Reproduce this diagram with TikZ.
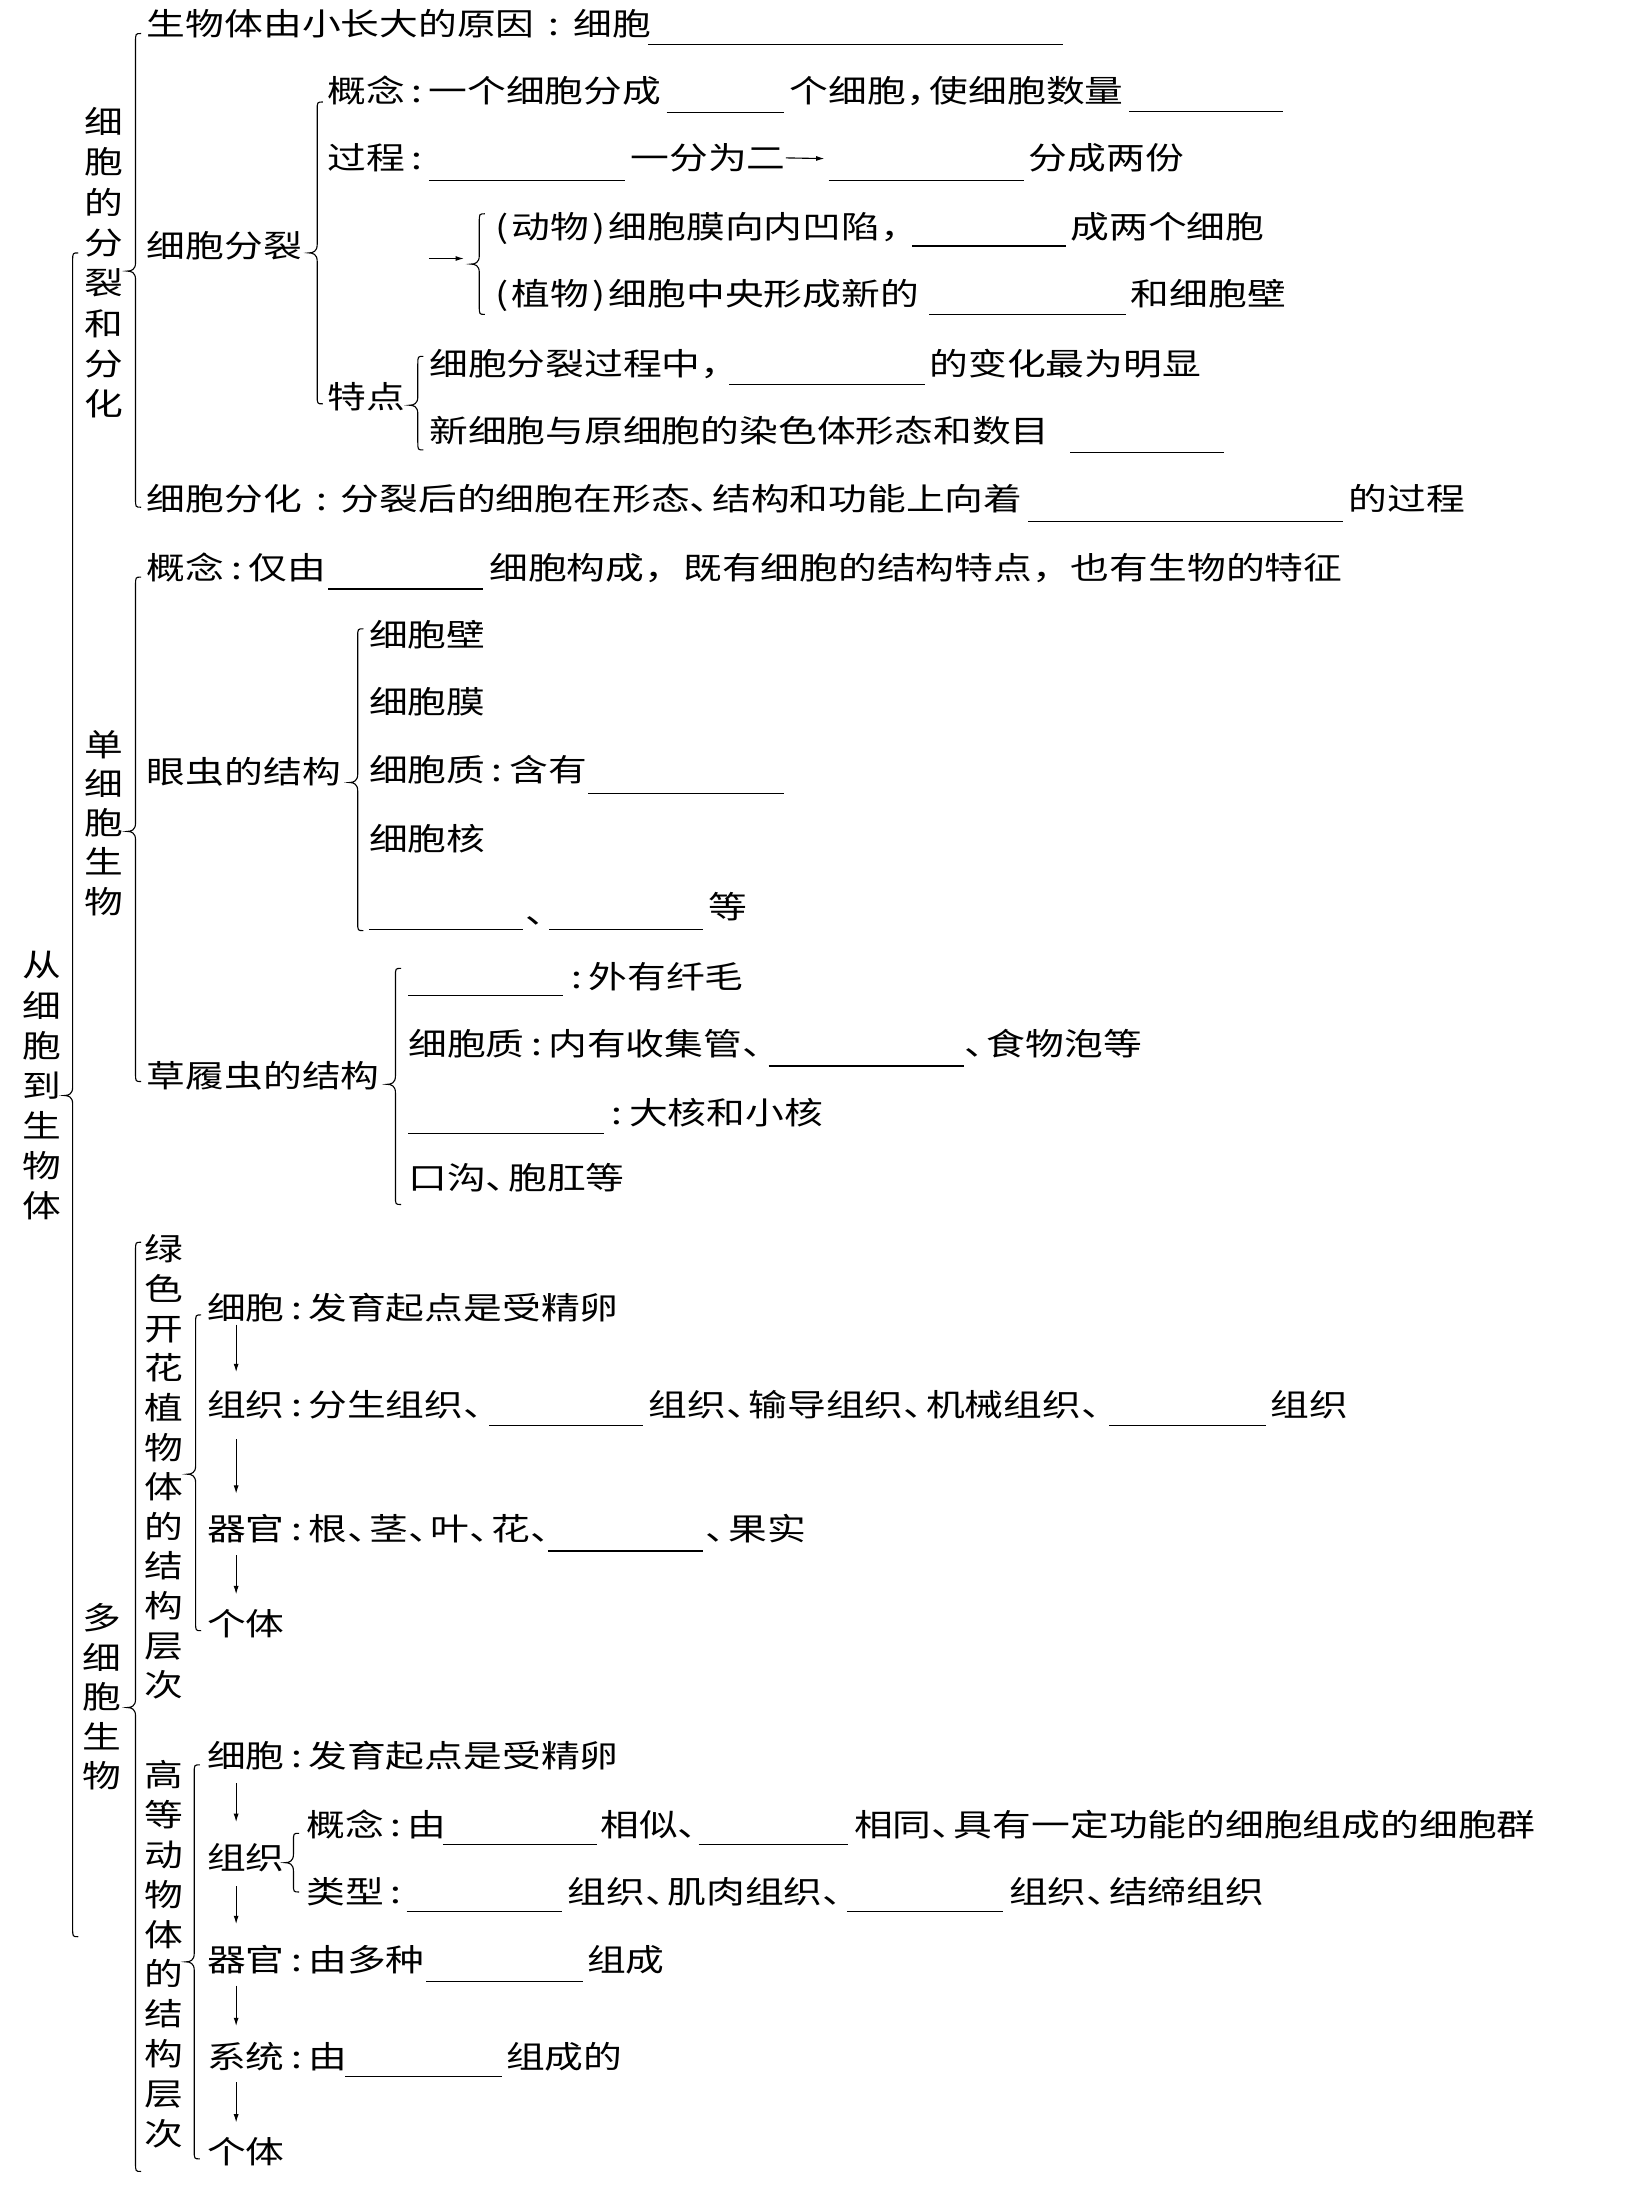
\documentclass[tikz,border=0pt]{standalone}
\usepackage{fontspec}
\setmainfont{Noto Sans CJK SC}[FakeStretch=1.25]
\usetikzlibrary{arrows.meta}
\newcommand\CO{\makebox[17pt][c]{:}}
\newcommand\COW{\makebox[27.75pt][c]{:}}
\newcommand\DN{\makebox[16pt][l]{、}}
\newcommand\CM{\makebox[17pt][l]{，}}
\newcommand\LP{\makebox[14pt][c]{(}}
\newcommand\RP{\makebox[14pt][c]{)}}
\newcommand\brc[4]{%
 \draw[bracel] ({#1+4},{#2}) .. controls ({#1},{#2}) .. ({#1},{#2+6}) -- ({#1},{#3-6})
  .. controls ({#1},{#3-1}) and ({#1-3},{#3}) .. ({#1-6},{#3})
  .. controls ({#1-3},{#3}) and ({#1},{#3+1}) .. ({#1},{#3+6}) -- ({#1},{#4-6})
  .. controls ({#1},{#4}) .. ({#1+4},{#4});}
\tikzset{
 tx/.style={anchor=west, inner sep=0pt, text height=18.5pt, text depth=1.4pt},
 vt/.style={align=center, inner sep=0pt, font=\fontsize{22.2}{#1}\selectfont},
 ul/.style={line width=1pt},
 bracel/.style={line width=0.8pt},
 arr/.style={line width=0.8pt, -{Latex[length=6pt,width=3.6pt]}}
}
\begin{document}
\begin{tikzpicture}[x=1pt,y=-1pt,font=\fontsize{22.2}{26}\selectfont]
\useasboundingbox[fill=white] (0,0) rectangle (1177,1568);
% vertical titles
\node[vt=28.7] (v0) at (30,777) {从\\细\\胞\\到\\生\\物\\体};
\node[vt=28.86] (v1) at (74,188) {细\\胞\\的\\分\\裂\\和\\分\\化};
\node[vt=28] (v2) at (74,589) {单\\细\\胞\\生\\物};
\node[vt=28.25] (v3) at (73,1214.5) {多\\细\\胞\\生\\物};
\node[vt=28.36] (v4) at (117,1050) {绿\\色\\开\\花\\植\\物\\体\\的\\结\\构\\层\\次};
\node[vt=28.55] (v5) at (117,1398.5) {高\\等\\动\\物\\体\\的\\结\\构\\层\\次};
% braces
\brc{52}{181}{784}{1386}
\brc{97}{24}{194}{363}
\brc{227}{73}{181}{289}
\brc{343}{153}{189}{225}
\brc{299}{255}{290}{322}
\brc{97}{413}{595}{774}
\brc{256}{450}{560}{666}
\brc{283}{693}{776}{862}
\brc{97}{889}{1222}{1554}
\brc{140}{941}{1055}{1167}
\brc{139}{1263}{1404}{1545}
\brc{210}{1312}{1333}{1354}
% section 1
\node[tx] (r1a) at (105,17) {生物体由小长大的原因\COW 细胞};
\node[tx] (r2a) at (234,65) {概念\CO 一个细胞分成};
\node[tx] (r2b) at (565,65) {个细胞\CM 使细胞数量};
\node[tx] (r3a) at (234,113) {过程\CO};
\node[tx] (r3b) at (451,113) {一分为二};
\coordinate (r3e) at (590,113.5);
\draw[arr] (r3b.east) -- (r3e);
\node[tx] (r3c) at (736,113) {分成两份};
\node[tx] (fz) at (105,176) {细胞分裂};
\coordinate (a0s) at (307,185);
\coordinate (a0e) at (332,185);
\draw[arr] (a0s) -- (a0e);
\node[tx] (r5a) at (352,162) {\LP 动物\RP 细胞膜向内凹陷，};
\node[tx] (r5b) at (766,162) {成两个细胞};
\node[tx] (r6a) at (352,210) {\LP 植物\RP 细胞中央形成新的};
\node[tx] (r6b) at (809,210) {和细胞壁};
\node[tx] (td) at (234,284) {特点};
\node[tx] (r8a) at (307,260) {细胞分裂过程中，};
\node[tx] (r8b) at (665,260) {的变化最为明显};
\node[tx] (r9a) at (307,308) {新细胞与原细胞的染色体形态和数目};
\node[tx] (r10a) at (105,357) {细胞分化\COW 分裂后的细胞在形态\DN 结构和功能上向着};
\node[tx] (r10b) at (965,357) {的过程};
% section 2
\node[tx] (r11a) at (105,406) {概念\CO 仅由};
\node[tx] (r11b) at (350,406) {细胞构成，既有细胞的结构特点，也有生物的特征};
\node[tx] (yc) at (105,552) {眼虫的结构};
\node[tx] (y1) at (264,454) {细胞壁};
\node[tx] (y2) at (264,502) {细胞膜};
\node[tx] (y3) at (264,551) {细胞质\CO 含有};
\node[tx] (y4) at (264,600) {细胞核};
\node[tx] (y5) at (376,652) {、};
\node[tx] (y6) at (507,649) {等};
\node[tx] (cl) at (105,770) {草履虫的结构};
\node[tx] (c1) at (404,699) {\CO 外有纤毛};
\node[tx] (c2a) at (292,747) {细胞质\CO 内有收集管\DN};
\node[tx] (c2b) at (690,747) {\DN 食物泡等};
\node[tx] (c3) at (433,796) {\CO 大核和小核};
\node[tx] (c4) at (292,843) {口沟\DN 胞肛等};
% section 3 plants
\node[tx] (p1) at (148,936) {细胞\CO 发育起点是受精卵};
\node[tx] (p2a) at (148,1005) {组织\CO 分生组织\DN};
\node[tx] (p2b) at (464,1005) {组织\DN 输导组织\DN 机械组织\DN};
\node[tx] (p2c) at (909,1005) {组织};
\node[tx] (p3a) at (148,1094) {器官\CO 根\DN 茎\DN 叶\DN 花\DN};
\node[tx] (p3b) at (505,1094) {\DN 果实};
\node[tx] (p4) at (148,1162) {个体};
\coordinate (pa1) at (169,948); \coordinate (pb1) at (169,982);
\coordinate (pa2) at (169,1030); \coordinate (pb2) at (169,1069);
\coordinate (pa3) at (169,1113); \coordinate (pb3) at (169,1141);
\draw[arr] (pa1) -- (pb1);
\draw[arr] (pa2) -- (pb2);
\draw[arr] (pa3) -- (pb3);
% section 3 animals
\node[tx] (q1) at (148,1256) {细胞\CO 发育起点是受精卵};
\node[tx] (q2) at (148,1329) {组织};
\node[tx] (q2a) at (219,1306) {概念\CO 由};
\node[tx] (q2b) at (429.5,1306) {相似\DN};
\node[tx] (q2c) at (611,1306) {相同\DN 具有一定功能的细胞组成的细胞群};
\node[tx] (q3a) at (219,1354) {类型\CO};
\node[tx] (q3b) at (406,1354) {组织\DN 肌肉组织\DN};
\node[tx] (q3c) at (722,1354) {组织\DN 结缔组织};
\node[tx] (q4a) at (148,1402) {器官\CO 由多种};
\node[tx] (q4b) at (420,1402) {组成};
\node[tx] (q5a) at (148,1472) {系统\CO 由};
\node[tx] (q5b) at (362,1472) {组成的};
\node[tx] (q6) at (148,1540) {个体};
\coordinate (qa1) at (169,1276); \coordinate (qb1) at (169,1304);
\coordinate (qa2) at (169,1350); \coordinate (qb2) at (169,1377);
\coordinate (qa3) at (169,1421); \coordinate (qb3) at (169,1450);
\coordinate (qa4) at (169,1490); \coordinate (qb4) at (169,1519);
\draw[arr] (qa1) -- (qb1);
\draw[arr] (qa2) -- (qb2);
\draw[arr] (qa3) -- (qb3);
\draw[arr] (qa4) -- (qb4);
% blanks
\draw[ul] (464,32) -- (761,32);
\draw[ul] (477,80.5) -- (561,80.5);
\draw[ul] (808,80) -- (918,80);
\draw[ul] (307,129) -- (447,129);
\draw[ul] (593,129) -- (733,129);
\draw[ul] (653,176) -- (763,176);
\draw[ul] (665,225) -- (806,225);
\draw[ul] (522,275) -- (662,275);
\draw[ul] (766,324) -- (876,324);
\draw[ul] (736,373) -- (961,373);
\draw[ul] (235,421.5) -- (346,421.5);
\draw[ul] (421,568) -- (561,568);
\draw[ul] (264,665) -- (374,665);
\draw[ul] (393,665) -- (503,665);
\draw[ul] (292,712.6) -- (403,712.6);
\draw[ul] (550,763) -- (690,763);
\draw[ul] (292,811) -- (432,811);
\draw[ul] (350,1020) -- (460,1020);
\draw[ul] (794,1020) -- (906,1020);
\draw[ul] (392,1110) -- (503,1110);
\draw[ul] (317,1320) -- (427,1320);
\draw[ul] (500,1320) -- (607,1320);
\draw[ul] (291,1368) -- (402,1368);
\draw[ul] (606,1368) -- (718,1368);
\draw[ul] (305,1418) -- (417,1418);
\draw[ul] (247,1486) -- (359,1486);
\end{tikzpicture}
\end{document}
